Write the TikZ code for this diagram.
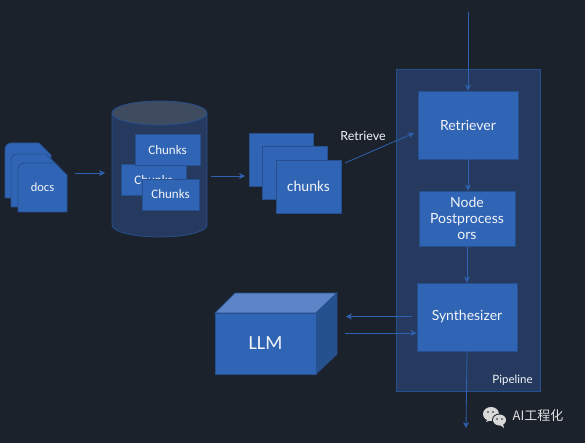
\documentclass[tikz,border=0pt]{standalone}
\usepackage{xcolor}
\usepackage{fontspec}
\setmainfont{Carlito}
\newfontfamily\widefont{Lato}
\newfontfamily\cjk{Noto Sans CJK SC}
\usetikzlibrary{arrows.meta, positioning}
\definecolor{bgdark}{HTML}{1C222C}
\definecolor{boxblue}{HTML}{3065B5}
\definecolor{boxedge}{HTML}{264F8E}
\definecolor{panelblue}{HTML}{253A5E}
\definecolor{lidgrey}{HTML}{3F4C60}
\definecolor{linkblue}{HTML}{2F62B0}
\definecolor{cubetop}{HTML}{5B85C6}
\definecolor{cubeside}{HTML}{26518F}
\definecolor{labelwhite}{HTML}{F2F4F8}
\tikzset{
  bluebox/.style={draw=boxedge, fill=boxblue, line width=0.8pt, text=labelwhite, inner sep=0pt, align=center},
  flow/.style={-{Stealth[length=6pt,width=6pt]}, draw=linkblue, line width=0.8pt},
}
\newcommand{\docpage}[5]{%
  \draw[bluebox] (#1,#3) -- (#1,{#2+6}) arc[start angle=180, end angle=270, radius=6] -- ({#1+#4-12},#2) -- ({#1+#4},{#2+12}) -- ({#1+#4},#3) -- cycle;
  \node[text=labelwhite, font=\fontsize{12.5}{15}\selectfont] at ({#1+#4/2},{(#2+#3)/2}) {#5};}
\newcommand{\dbchunk}[3]{%
  \node[bluebox, minimum width=#3, minimum height=31, font=\fontsize{13}{15}\selectfont] at #1 (#2) {Chunks};}
\begin{document}
\begin{tikzpicture}[x=1pt, y=-1pt]
  \useasboundingbox[fill=bgdark] (0,0) rectangle (585,443);
  % docs stack
  \docpage{5}{143}{198}{46}{}
  \docpage{11}{154}{207}{47}{}
  \docpage{18}{163}{212}{49}{docs}
  \coordinate (docsout) at (75,173);
  \coordinate (dbin) at (105,173);
  \draw[flow] (docsout) -- (dbin);
  % store
  \draw[draw=boxedge, fill=panelblue, line width=0.8pt] (112,113) -- (112,225) arc[x radius=47.5, y radius=12, start angle=180, end angle=0] -- (207,113);
  \draw[draw=boxedge, fill=lidgrey, line width=0.8pt] (159.5,113) ellipse[x radius=47.5, y radius=12];
  \dbchunk{(153.5,180)}{chunkb}{65}
  \dbchunk{(167.5,150)}{chunka}{65}
  \dbchunk{(170.5,194.5)}{chunkc}{57}
  \coordinate (dbout) at (211,176);
  % chunks stack
  \node[bluebox, minimum width=64, minimum height=53] (hitc) at (281,159.5) {};
  \node[bluebox, minimum width=65, minimum height=53] (hitb) at (294.5,172.5) {};
  \node[bluebox, minimum width=65, minimum height=53, font=\fontsize{15}{17}\selectfont] (hita) at (308.5,186.5) {chunks};
  \coordinate (hitin) at (245,176);
  \draw[flow] (dbout) -- (hitin);
  % pipeline
  \node[draw=boxedge, fill=panelblue, line width=0.8pt, minimum width=144, minimum height=322, inner sep=0pt] (pipeline) at (468,230) {};
  \node[text=labelwhite, font=\widefont\fontsize{11.5}{13}\selectfont] (pipelabel) at (512.5,380) {Pipeline};
  \node[bluebox, minimum width=100, minimum height=68, font=\widefont\fontsize{14}{16}\selectfont] (retriever) at (468,125) {Retriever};
  \node[bluebox, minimum width=96, minimum height=55, font=\widefont\fontsize{14}{16}\selectfont] (post) at (467,218.5) {Node\\Postprocess\\ors};
  \node[bluebox, minimum width=100, minimum height=68, font=\widefont\fontsize{14}{16}\selectfont] (synth) at (467,317) {Synthesizer};
  \node[text=labelwhite, font=\widefont\fontsize{12.5}{14}\selectfont] (retrievelabel) at (363,136) {Retrieve};
  \coordinate (hitout) at (345,163);
  \coordinate (retrin) at (414,133);
  \coordinate (querytop) at (468,12);
  \coordinate (answerend) at (466,428);
  \draw[flow] (hitout) -- (retrin);
  \draw[flow] (querytop) -- (retriever.north);
  \draw[flow] (retriever.south) -- (post.north -| retriever.south);
  \draw[flow] (post.south) -- (synth.north);
  \draw[flow] (synth.south) -- (answerend);
  % LLM cube
  \draw[draw=boxedge, fill=cubetop, line width=0.8pt] (215,313) -- (235,293) -- (337,293) -- (316,313) -- cycle;
  \draw[draw=boxedge, fill=cubeside, line width=0.8pt] (316,313) -- (337,293) -- (337,354) -- (316,374) -- cycle;
  \node[bluebox, minimum width=101, minimum height=61, font=\fontsize{20}{22}\selectfont] (llm) at (265.5,343.5) {LLM};
  \coordinate (llmin) at (346,316.5);
  \coordinate (synthout) at (412,316.5);
  \coordinate (llmout) at (345,333);
  \draw[flow] (synthout) -- (llmin);
  \draw[flow] (llmout) -- (llmout -| synth.west);
  % watermark
  \fill[white!85!black] (491,414) ellipse[x radius=8, y radius=7];
  \fill[white!85!black] (486,422) -- (489,417) -- (491,420) -- cycle;
  \fill[bgdark] (499.5,420) ellipse[x radius=7.5, y radius=6.5];
  \fill[white!85!black] (499.5,420) ellipse[x radius=6.5, y radius=5.5];
  \fill[white!85!black] (503,424) -- (504,428) -- (500,425) -- cycle;
  \foreach \x in {488,493} { \fill[bgdark] (\x,412) circle[radius=0.9]; }
  \foreach \x in {497,502} { \fill[bgdark] (\x,419) circle[radius=0.8]; }
  \node[text=white!88!black, font=\cjk\fontsize{13}{15}\selectfont] (mark) at (538,416) {AI工程化};
\end{tikzpicture}
\end{document}
